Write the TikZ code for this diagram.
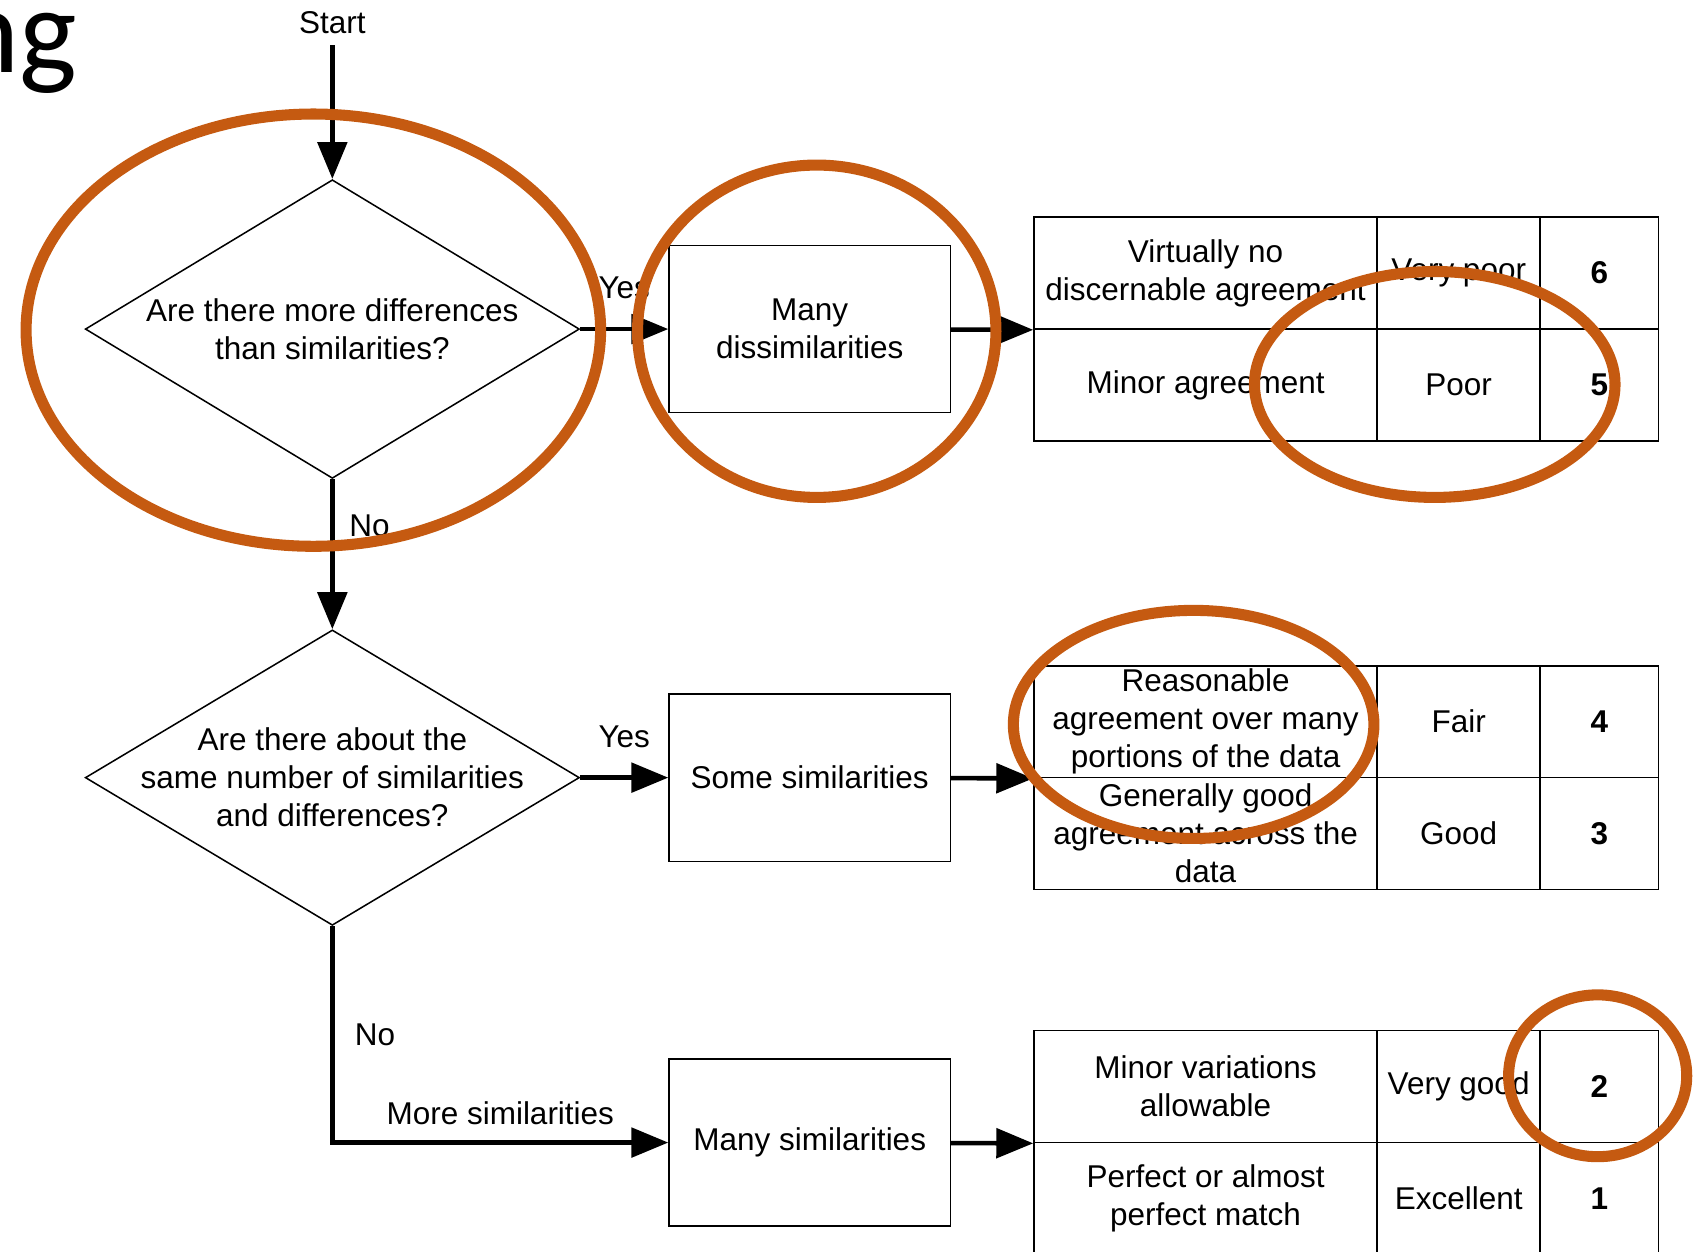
\documentclass[tikz,border=0pt]{standalone}
\usepackage{fontspec}
\setmainfont{Liberation Sans}
\newfontfamily\titlefont{Carlito}
\usepackage{tikz}
\usetikzlibrary{shapes.geometric,arrows.meta}
\definecolor{hiorange}{RGB}{197,90,17}
\tikzset{
  flow/.style={line width=1.2pt, -{Triangle[length=0.34cm,width=0.27cm]}},
  decision/.style={draw, diamond, line width=0.4pt, inner sep=0pt, minimum width=4.55cm, minimum height=2.75cm},
  proc/.style={draw, rectangle, line width=0.4pt, minimum width=2.59cm, minimum height=1.54cm, align=center},
  cell/.style={draw, rectangle, line width=0.4pt, inner sep=0pt, minimum height=1.03cm, align=center},
  crit/.style={cell, minimum width=3.16cm},
  grade/.style={cell, minimum width=1.50cm},
  score/.style={cell, minimum width=1.09cm, font=\bfseries},
  hilite/.style={draw=hiorange, line width=2.9pt},
}

\begin{document}
\fontsize{8.25}{9.96}\selectfont
\begin{tikzpicture}[auto]
    \useasboundingbox (0.00, 0.00) rectangle (15.68, 11.52);
    \node[anchor=base east, inner sep=0pt, font=\titlefont\fontsize{32}{38}\selectfont] (title) at (0.72, 10.85) {ng};
    \node (start) at (3.06, 11.31) {Start};
    % questions
    \node[decision] (q1) at (3.06, 8.49) {};
    \node[align=center] at (q1) {Are there more differences\\than similarities?};
    \node[decision, minimum height=2.72cm] (q2) at (3.06, 4.36) {};
    \node[align=center] at (q2) {Are there about the\\same number of similarities\\and differences?};
    % outcomes
    \node[proc] (dis) at (7.455, 8.49) {Many\\dissimilarities};
    \node[proc] (some) at (7.455, 4.36) {Some similarities};
    \node[proc] (many) at (7.455, 1.00) {Many similarities};
    % rating tables
    \node[crit] (c6) at (11.10, 9.005) {Virtually no\\discernable agreement};
    \node[grade] (g6) at (13.43, 9.005) {Very poor};
    \node[score] (n6) at (14.725, 9.005) {6};
    \node[crit] (c5) at (11.10, 7.975) {Minor agreement};
    \node[grade] (g5) at (13.43, 7.975) {Poor};
    \node[score] (n5) at (14.725, 7.975) {5};
    \node[crit] (c4) at (11.10, 4.875) {Reasonable\\agreement over many\\portions of the data};
    \node[grade] (g4) at (13.43, 4.875) {Fair};
    \node[score] (n4) at (14.725, 4.875) {4};
    \node[crit] (c3) at (11.10, 3.845) {Generally good\\agreement across the\\data};
    \node[grade] (g3) at (13.43, 3.845) {Good};
    \node[score] (n3) at (14.725, 3.845) {3};
    \node[crit] (c2) at (11.10, 1.515) {Minor variations\\allowable};
    \node[grade] (g2) at (13.43, 1.515) {Very good};
    \node[score] (n2) at (14.725, 1.515) {2};
    \node[crit] (c1) at (11.10, 0.485) {Perfect or almost\\perfect match};
    \node[grade] (g1) at (13.43, 0.485) {Excellent};
    \node[score] (n1) at (14.725, 0.485) {1};
    % connectors
    \draw[flow] (start) to (q1);
    \draw[flow] (q1) to node[yshift=0.16cm] {Yes} (dis);
    \draw[flow] (dis) to (c6.south west);
    \draw[flow] (q1) to node[pos=0.31, xshift=0.04cm] {No} (q2);
    \draw[flow] (q2) to node[yshift=0.16cm] {Yes} (some);
    \draw[flow] (some) to (c4.south west);
    \draw[flow] (q2) |- node[pos=0.25, xshift=0.09cm] {No} node[pos=0.75, yshift=0.05cm] {More similarities} (many);
    \draw[flow] (many) to (c2.south west);
    % highlights
    \draw[hilite] (2.885, 8.48) ellipse [x radius=2.645, y radius=1.99];
    \draw[hilite] (7.52, 8.47) ellipse [x radius=1.65, y radius=1.53];
    \draw[hilite] (13.21, 7.98) ellipse [x radius=1.66, y radius=1.04];
    \draw[hilite] (10.99, 4.85) ellipse [x radius=1.66, y radius=1.05];
    \draw[hilite] (14.71, 1.615) ellipse [x radius=0.82, y radius=0.745];
\end{tikzpicture}
\end{document}
